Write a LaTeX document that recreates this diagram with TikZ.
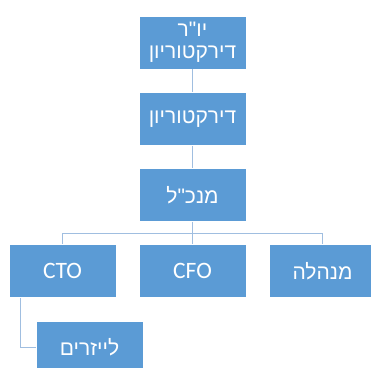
\documentclass[tikz,border=0pt]{standalone}
\usepackage{fontspec}
\setmainfont{Carlito}
\newfontfamily\hebfont[Script=Hebrew]{Liberation Sans}
\TeXXeTstate=1
\definecolor{boxblue}{RGB}{91,155,213}
\definecolor{lineblue}{RGB}{160,190,224}
\tikzset{
  orgbox/.style={fill=boxblue, draw=white, line width=0.8pt, minimum width=107pt, minimum height=53pt, inner sep=0pt, text=white, align=center, font=\fontsize{21}{24}\selectfont},
  latin/.style={font=\fontsize{23.5}{26}\selectfont},
  conn/.style={draw=lineblue, line width=1pt}
}
\newcommand{\heb}[1]{{\hebfont\beginR #1\endR}}
\begin{document}
\begin{tikzpicture}[x=1pt,y=-1pt]
\useasboundingbox (0,0) rectangle (371,367);
\begin{scope}
\clip (0,0) rectangle (371,367);
\node[orgbox] (yr) at (192.5,42.5) {\heb{יו"ר}\\[-2pt]\heb{דירקטוריון}};
\node[orgbox] (dir) at (192.5,119) {\heb{דירקטוריון}};
\node[orgbox] (ceo) at (192.5,195) {\heb{מנכ"ל}};
\node[orgbox, latin] (cto) at (62.5,271) {CTO};
\node[orgbox, latin] (cfo) at (192.5,271) {CFO};
\node[orgbox] (admin) at (322.5,271) {\heb{מנהלה}};
\node[orgbox] (laser) at (89.5,347.5) {\heb{לייזרים}};
\coordinate (bus) at (192.5,233);
\draw[conn] (yr.south) -- (dir.north);
\draw[conn] (dir.south) -- (ceo.north);
\draw[conn] (ceo.south) -- (bus);
\draw[conn] (bus) -| (cto.north);
\draw[conn] (bus) -- (cfo.north);
\draw[conn] (bus) -| (admin.north);
\draw[conn] ([xshift=-42.5pt]cto.south) |- (laser.west);
\end{scope}
\end{tikzpicture}
\end{document}
